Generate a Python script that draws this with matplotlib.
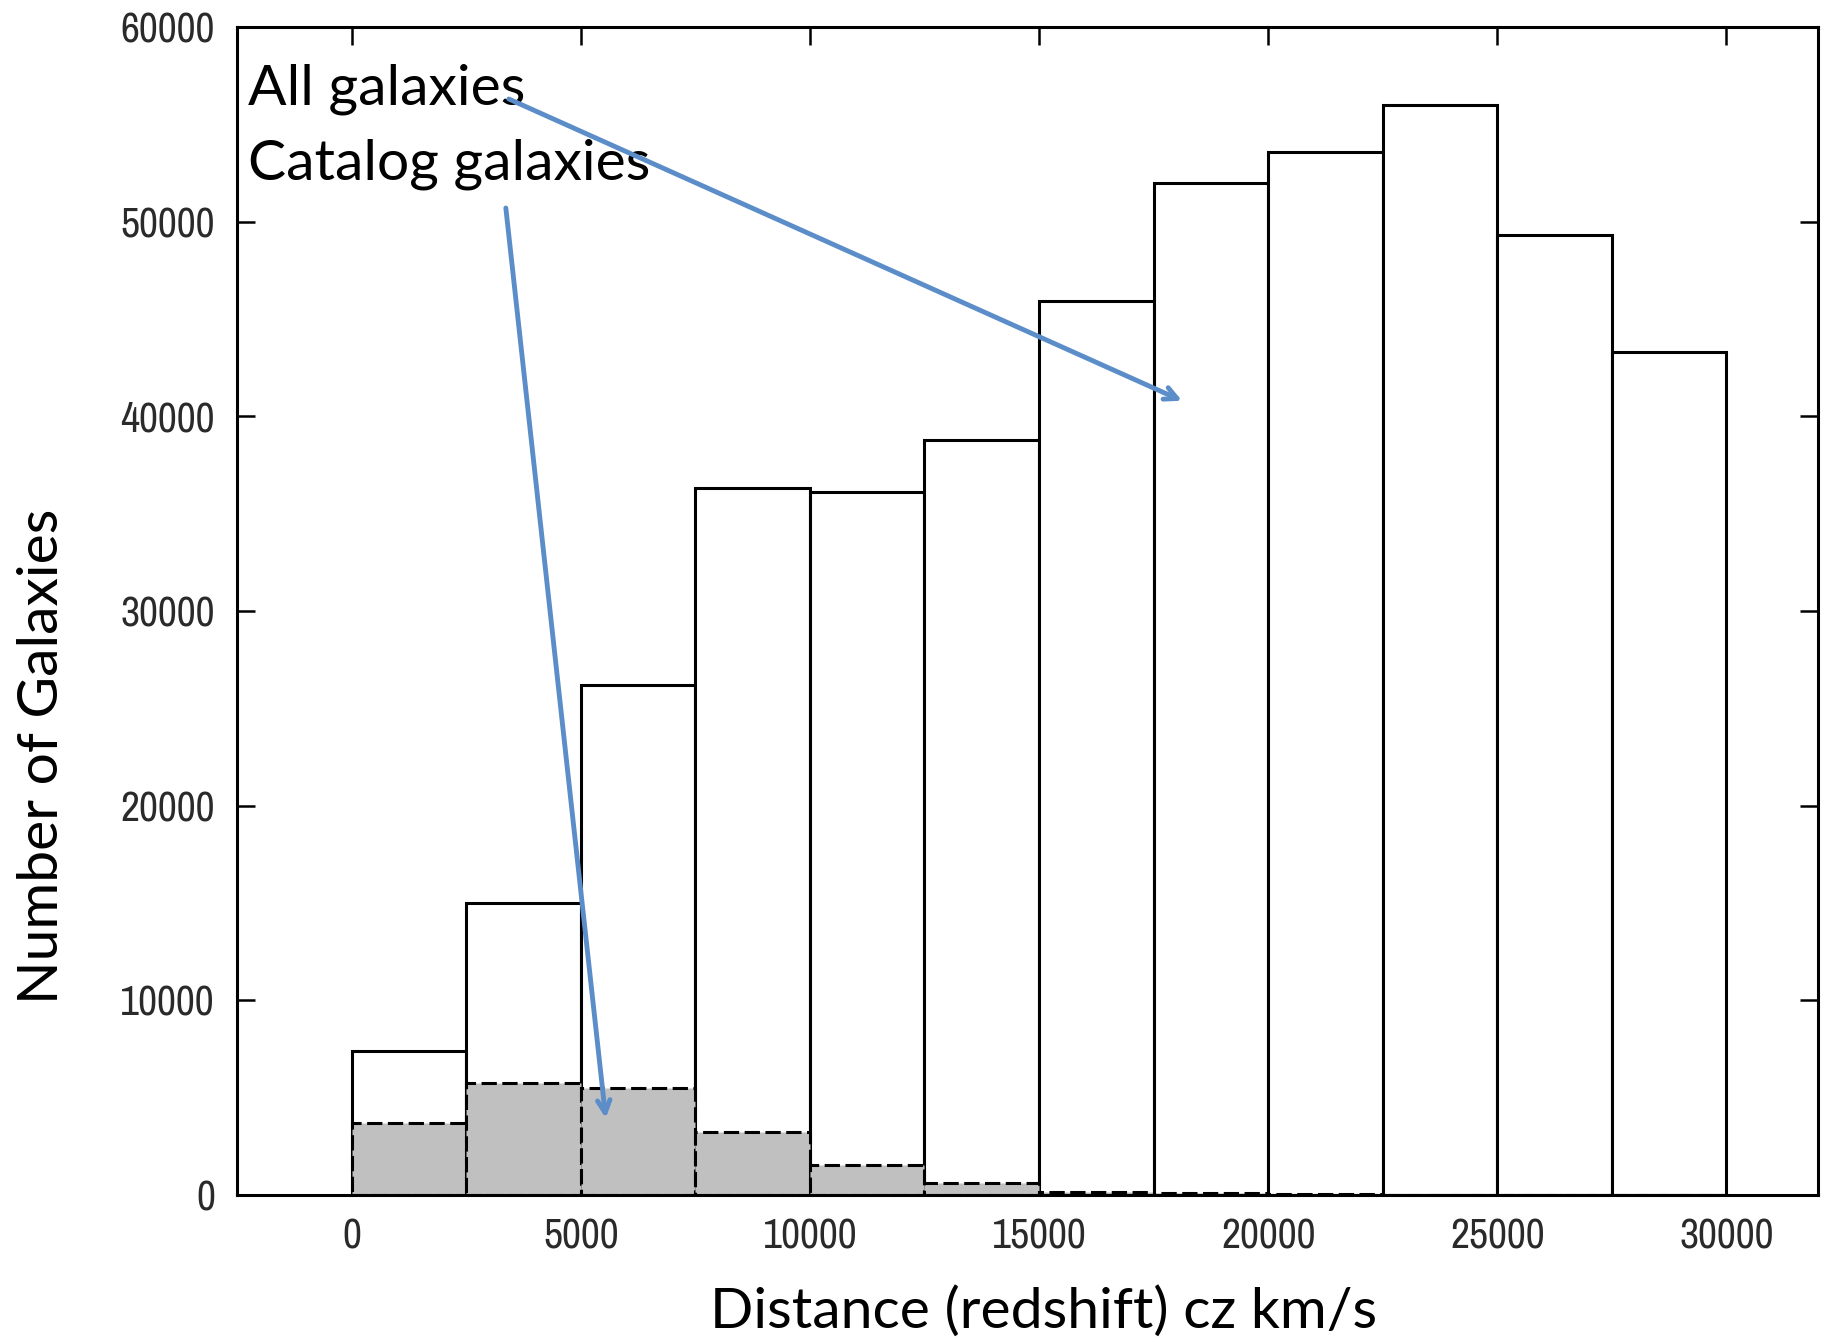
import matplotlib
matplotlib.use("Agg")
import matplotlib.pyplot as plt
from matplotlib import font_manager
import numpy as np

# histogram bins (cz km/s, left edges) and counts
bin_edges = [0, 2500, 5000, 7500, 10000, 12500, 15000, 17500, 20000, 22500, 25000, 27500, 30000]
all_counts = [7400, 15000, 26200, 36300, 36100, 38800, 45900, 52000, 53600, 56000, 49300, 43300]
catalog_counts = [3700, 5750, 5500, 3250, 1550, 600, 180, 100, 30, 0, 0, 0]

x_ticks = [0, 5000, 10000, 15000, 20000, 25000, 30000]
y_ticks = [0, 10000, 20000, 30000, 40000, 50000, 60000]

label_font = ["Lato", "DejaVu Sans"]
arrow_blue = "#5b8dc9"

# narrow font for the tick numbers if one is around
narrow = [f.name for f in font_manager.fontManager.ttflist
          if "Narrow" in f.name or "Condensed" in f.name]
tick_font = (narrow[:1] if narrow else []) + ["DejaVu Sans"]

fig = plt.figure(figsize=(18.32, 13.42), dpi=100)
ax = fig.add_axes([0.1294, 0.1095, 0.863, 0.8704])

lefts = np.array(bin_edges[:-1])
widths = np.diff(bin_edges)

ax.bar(lefts, all_counts, width=widths, align="edge", facecolor="white",
       edgecolor="black", linewidth=2.2, zorder=2)
ax.bar(lefts, catalog_counts, width=widths, align="edge", facecolor="#c0c0c0",
       edgecolor="black", linewidth=2.2, linestyle=(0, (5, 1.8)), zorder=3)

ax.set_xlim(-2500, 32000)
ax.set_ylim(0, 60000)
ax.set_xticks(x_ticks)
ax.set_yticks(y_ticks)

for s in ax.spines.values():
    s.set_linewidth(2.2)
    s.set_zorder(4)

ax.tick_params(direction="in", length=13, width=1.8, top=True, right=True,
               colors="black", labelcolor="#2a2a2a", labelsize=30, pad=16)
for lab in ax.get_xticklabels() + ax.get_yticklabels():
    lab.set_family(tick_font)

ax.set_xlabel("Distance (redshift) cz km/s", fontsize=41, family=label_font)
ax.xaxis.set_label_coords(0.51, -0.078)
ax.set_ylabel("Number of Galaxies", fontsize=41, family=label_font)
ax.yaxis.set_label_coords(-0.107, 0.376)

ax.text(-2270, 56000, "All galaxies", fontsize=41, family=label_font, va="baseline")
ax.text(-2270, 52180, "Catalog galaxies", fontsize=41, family=label_font, va="baseline")

arrow_props = dict(arrowstyle="->,head_length=0.9,head_width=0.45", color=arrow_blue,
                   lw=3.5, shrinkA=0, shrinkB=0)
ax.annotate("", xy=(18120, 40800), xytext=(3430, 56300), arrowprops=arrow_props, zorder=5)
ax.annotate("", xy=(5545, 3950), xytext=(3365, 50700), arrowprops=arrow_props, zorder=5)

fig.savefig("out.png", dpi=100)
